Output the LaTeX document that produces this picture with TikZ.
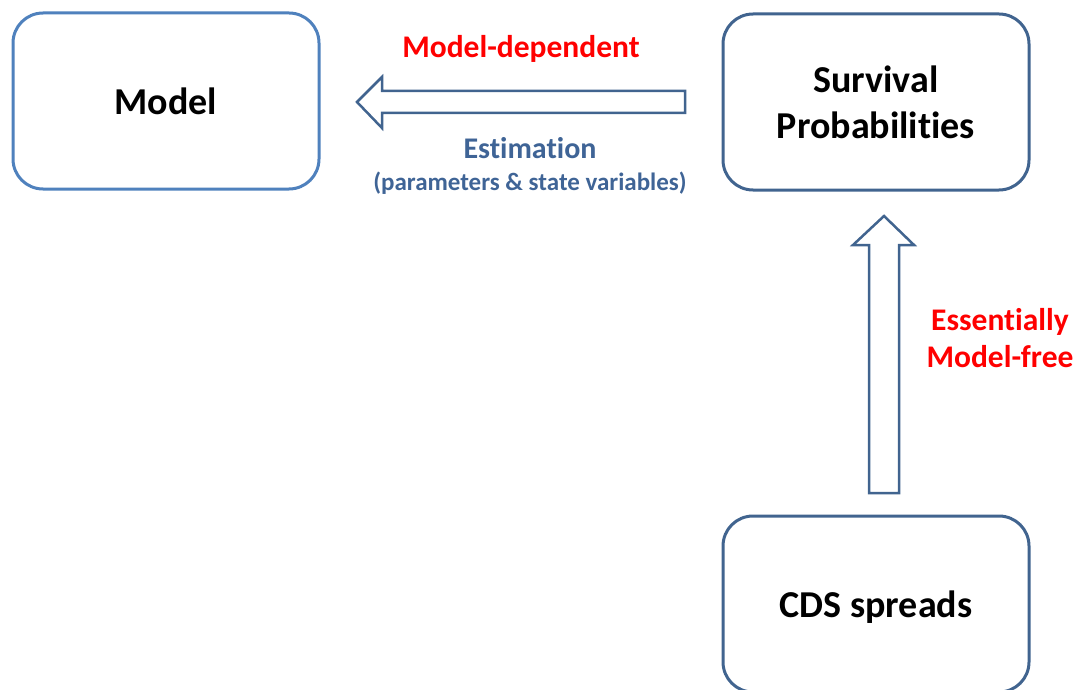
\documentclass[tikz,border=0pt]{standalone}
\usepackage{fontspec}
\setmainfont{Carlito}[Ligatures=NoCommon]
\usetikzlibrary{calc}
\definecolor{boxblueA}{HTML}{4F81BD}
\definecolor{boxblueB}{HTML}{41648F}
\definecolor{txtblue}{HTML}{3F6496}
\definecolor{txtred}{HTML}{FF0000}
\begin{document}
\begin{tikzpicture}[x=1pt,y=-1pt,
  boxnode/.style={draw, line width=3pt, rounded corners=30pt, fill=white,
    minimum width=306pt, minimum height=176pt, align=center,
    font=\fontsize{38}{46}\selectfont\bfseries},
  blockarrow/.style={draw=boxblueB, line width=2.5pt, fill=white, line join=miter},
  redlabel/.style={text=txtred, font=\fontsize{31.5}{36}\selectfont\bfseries, align=center},
  bluelabel/.style={text=txtblue, font=\fontsize{30}{34}\selectfont\bfseries},
  smallblue/.style={text=txtblue, font=\fontsize{25}{28}\selectfont\bfseries}]
\useasboundingbox (0,0) rectangle (1078,690);
\node[boxnode, draw=boxblueA] (model) at (166,101) {Model};
\node[boxnode, draw=boxblueB] (surv) at (876,102) {Survival\\Probabilities};
\node[boxnode, draw=boxblueB, text depth=0pt] (cds) at (876,604) {CDS spreads};
% left block arrow (Survival -> Model)
\coordinate (la) at (685,102);
\coordinate (lb) at (357,102);
\draw[blockarrow] ($(la)+(0,-11)$) -- (382,91) -- (382,77) -- (lb) -- (382,128) -- (382,113) -- ($(la)+(0,11)$) -- cycle;
% up block arrow (CDS -> Survival)
\coordinate (ua) at (884,493);
\coordinate (ub) at (884,216);
\draw[blockarrow] ($(ua)+(-15,0)$) -- (869,245) -- (853,245) -- (ub) -- (914,245) -- (899,245) -- ($(ua)+(15,0)$) -- cycle;
\node[redlabel, anchor=base] (md) at (521,58) {Model-dependent};
\node[bluelabel, anchor=base] (est) at (530,158) {Estimation};
\node[smallblue, anchor=base] (par) at (530,190) {(parameters \& state variables)};
\node[redlabel, anchor=base] (ess) at (1000,330) {Essentially};
\node[redlabel, anchor=base] (mf) at (1000,367) {Model-free};
\end{tikzpicture}
\end{document}
